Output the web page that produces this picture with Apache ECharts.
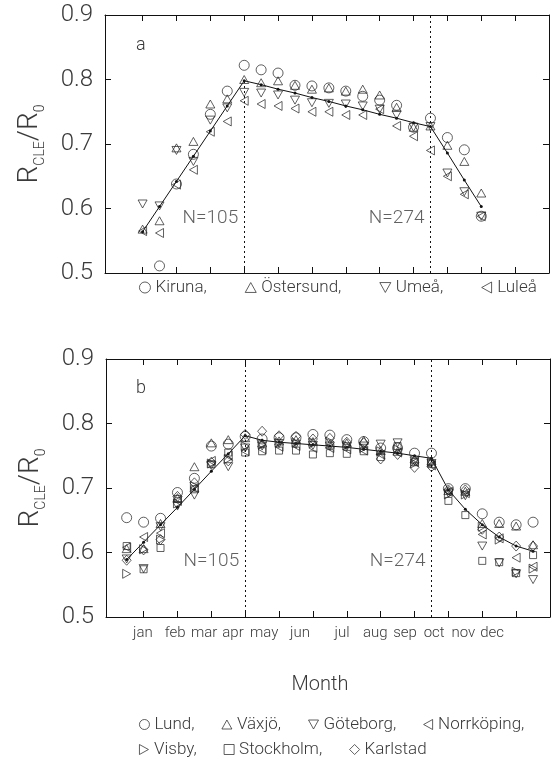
<!DOCTYPE html>
<html><head><meta charset="utf-8">
<script src="https://cdn.jsdelivr.net/npm/echarts@6/dist/echarts.min.js"></script>
<style>html,body{margin:0;padding:0;background:#fff}#c{width:557px;height:760px}</style>
</head><body><div id="c"></div>
<script>
// ---------- data ----------
const monthNames = ['jan','feb','mar','apr','may','jun','jul','aug','sep','oct','nov','dec'];
const monthTicks = [1,2,3,4,5,6,7,8,9,10,11,12];
const yTicks = [0.5,0.6,0.7,0.8,0.9];

// panel a : semi-monthly values (x in months)
const xA = [1,1.5,2,2.5,3,3.5,4,4.5,5,5.5,6,6.5,7,7.5,8,8.5,9,9.5,10,10.5,11];
const kiruna    = [null,0.511,0.638,0.684,0.746,0.782,0.822,0.815,0.810,0.791,0.790,0.787,0.782,0.774,0.768,0.760,0.726,0.740,0.710,0.691,0.588];
const ostersund = [0.568,0.581,0.694,0.704,0.762,0.770,0.800,0.795,0.798,0.791,0.785,0.787,0.782,0.785,0.776,0.757,0.726,0.728,0.698,0.673,0.624];
const umea      = [0.607,0.604,0.690,0.673,0.737,0.756,0.780,0.779,0.776,0.768,0.764,0.763,0.762,0.759,0.754,0.745,0.726,0.727,0.655,0.626,0.588];
const lulea     = [0.565,0.562,0.637,0.660,0.719,0.735,0.767,0.762,0.759,0.755,0.750,0.750,0.745,0.745,0.754,0.728,0.712,0.690,0.650,0.622,0.588];
const fitA      = [0.564,0.603,0.642,0.681,0.720,0.759,0.798,0.792,0.785,0.779,0.772,0.766,0.759,0.753,0.746,0.740,0.733,0.727,0.686,0.644,0.603];

// panel b
const xB = [0.5,1,1.5,2,2.5,3,3.5,4,4.5,5,5.5,6,6.5,7,7.5,8,8.5,9,9.5,10,10.5,11,11.5,12,12.5];
const lund       = [0.654,0.647,0.653,0.693,0.715,0.765,0.768,0.780,0.776,0.778,0.778,0.783,0.782,0.775,0.772,0.762,0.762,0.754,0.754,0.699,0.699,0.660,0.647,0.643,0.647];
const vaxjo      = [0.606,0.606,0.645,0.685,0.733,0.770,0.775,0.778,0.770,0.773,0.775,0.772,0.768,0.770,0.774,0.758,0.757,0.745,0.742,0.696,0.695,0.645,0.645,0.641,0.612];
const goteborg   = [0.590,0.575,0.640,0.672,0.689,0.735,0.733,0.762,0.765,0.769,0.768,0.766,0.765,0.764,0.765,0.768,0.770,0.742,0.738,0.692,0.688,0.610,0.584,0.567,0.558];
const norrkoping = [0.608,0.624,0.630,0.680,0.700,0.742,0.750,0.757,0.760,0.764,0.765,0.762,0.762,0.760,0.758,0.752,0.755,0.740,0.735,0.694,0.692,0.628,0.622,0.592,0.578];
const visby      = [0.567,0.605,0.620,0.676,0.703,0.738,0.745,0.765,0.768,0.770,0.770,0.770,0.772,0.766,0.762,0.757,0.760,0.738,0.740,0.690,0.690,0.640,0.620,0.570,0.575];
const stockholm  = [0.610,0.574,0.607,0.683,0.698,0.737,0.755,0.755,0.757,0.758,0.758,0.752,0.754,0.753,0.757,0.748,0.765,0.740,0.737,0.680,0.658,0.587,0.585,0.568,0.596];
const karlstad   = [0.588,0.604,0.620,0.687,0.708,0.740,0.742,0.783,0.788,0.781,0.780,0.776,0.777,0.771,0.770,0.745,0.752,0.732,0.733,0.697,0.697,0.636,0.624,0.610,0.610];
const fitB       = [0.589,0.616,0.643,0.670,0.698,0.726,0.753,0.781,0.774,0.771,0.769,0.767,0.765,0.763,0.760,0.757,0.754,0.750,0.746,0.697,0.667,0.643,0.624,0.610,0.602];

const breakMonths = [4, 9.5];
const nLabels = ['N=105','N=274'];

// ---------- layout / style ----------
const FONT = 'Roboto';
const FW = 300;
const TXT = '#3a3a3a';
const XMIN = -0.11, XMAX = 13;
const labelVals = [0.98,1.93,2.79,3.64,4.56,5.62,6.86,7.84,8.72,9.58,10.44,11.29];

const SYM = {
  circle: 'circle',
  up: 'path://M5,0L10,9L0,9Z',
  down: 'path://M0,0L10,0L5,9Z',
  left: 'path://M9,0L9,10L0,5Z',
  right: 'path://M0,0L0,10L9,5Z',
  square: 'rect',
  diamond: 'diamond'
};
const SIZE = {circle:10, up:[9,8], down:[9,8], left:[8,9], right:[8,9], square:7, diamond:[9,10]};

function zip(xs, ys){ return xs.map((x,i)=>[x, ys[i]]); }

function scatter(name, xs, ys, sym, gi){
  return {
    type:'scatter', name, xAxisIndex: gi*2, yAxisIndex: gi*2,
    data: zip(xs, ys).filter(p=>p[1]!=null),
    symbol: SYM[sym], symbolSize: SIZE[sym],
    itemStyle:{color:'rgba(0,0,0,0)', borderColor:'#222', borderWidth:0.9},
    z: 3, silent:true
  };
}

function xAxes(gi, withLabels){
  const base = {
    gridIndex: gi, type:'value', min:XMIN, max:XMAX,
    splitLine:{show:false},
    axisLine:{show:true, onZero:false, lineStyle:{color:'#111', width:1}},
    axisTick:{show:true, inside:true, length:6, customValues: monthTicks, lineStyle:{color:'#111'}},
  };
  return [
    Object.assign({}, base, {position:'bottom',
      axisLabel: withLabels ? {show:true, customValues: labelVals, fontFamily:FONT, fontWeight:FW, fontSize:15, color:TXT, margin:9,
        formatter:(v)=>{ let b=0; labelVals.forEach((lv,i)=>{ if(Math.abs(lv-v)<Math.abs(labelVals[b]-v)) b=i; }); return monthNames[b]; }}
        : {show:false},
      name: withLabels ? 'Month' : '', nameLocation:'middle', nameGap:58,
      nameTextStyle:{fontFamily:FONT, fontWeight:FW, fontSize:20, color:TXT, padding:[0,16,0,0]}
    }),
    Object.assign({}, base, {position:'top', axisLabel:{show:false}})
  ];
}

function yAxes(gi){
  const base = {
    gridIndex: gi, type:'value', min:0.5, max:0.9, interval:0.1,
    splitLine:{show:false},
    axisLine:{show:true, onZero:false, lineStyle:{color:'#111', width:1}},
    axisTick:{show:true, inside:true, length:6, lineStyle:{color:'#111'}},
  };
  return [
    Object.assign({}, base, {position:'left',
      axisLabel:{show:true, fontFamily:FONT, fontWeight:FW, fontSize:24, color:TXT, margin:12, formatter:(v)=>v.toFixed(1)},
      name:'{r|R}{s|CLE}{r|/R}{s|0}', nameLocation:'middle', nameRotate:90, nameGap:58,
      nameTextStyle:{fontFamily:FONT, color:TXT,
        rich:{ r:{fontFamily:FONT, fontWeight:FW, fontSize:28, lineHeight:34, color:TXT},
               s:{fontFamily:FONT, fontWeight:FW, fontSize:14, lineHeight:14, verticalAlign:'bottom', color:TXT} }}
    }),
    Object.assign({}, base, {position:'right', axisLabel:{show:false}})
  ];
}

function fitSeries(xs, ys, gi, marks){
  return {
    type:'line', name:'fit'+gi, xAxisIndex: gi*2, yAxisIndex: gi*2,
    data: zip(xs, ys), symbol:'circle', symbolSize:3, showSymbol:true,
    itemStyle:{color:'#111'}, lineStyle:{color:'#111', width:1}, z:2, silent:true,
    markLine:{silent:true, symbol:['none','none'], label:{show:false},
      lineStyle:{color:'#111', width:1, type:[2,3]}, data: marks}
  };
}

function nSeries(gi, yv){
  return {
    type:'scatter', name:'n'+gi, xAxisIndex: gi*2, yAxisIndex: gi*2,
    data: breakMonths.map((m,i)=>({value:[m, yv], name:nLabels[i]})),
    symbolSize:0, silent:true,
    label:{show:true, position:'left', distance:6, formatter:(p)=>p.name,
      fontFamily:FONT, fontWeight:FW, fontSize:19, color:TXT}
  };
}

const legendText = {fontFamily:FONT, fontWeight:FW, fontSize:17, color:TXT};
const legendItem = {color:'rgba(0,0,0,0)', borderColor:'#222', borderWidth:0.9};
const option = {
  animation:false,
  backgroundColor:'#fff',
  grid:[
    {left:105, top:15, width:444, height:258},
    {left:106, top:359, width:444, height:258}
  ],
  xAxis:[...xAxes(0,false), ...xAxes(1,true)],
  yAxis:[...yAxes(0), ...yAxes(1)],
  legend:[
    {data:['Kiruna','Östersund','Umeå','Luleå'], left:134, top:274, itemWidth:11, itemHeight:11, itemGap:38,
     textStyle:legendText, itemStyle:legendItem, formatter:(n)=> n==='Luleå'? n : n+',', selectedMode:false},
    {data:['Lund','Växjö','Göteborg','Norrköping'], left:134, top:711, itemWidth:10, itemHeight:10, itemGap:27,
     textStyle:legendText, itemStyle:legendItem, formatter:(n)=> n+',', selectedMode:false},
    {data:['Visby','Stockholm','Karlstad'], left:134, top:736, itemWidth:10, itemHeight:10, itemGap:27,
     textStyle:legendText, itemStyle:legendItem, formatter:(n)=> n==='Karlstad'? n : n+',', selectedMode:false}
  ],
  graphic:[
    {type:'text', left:136, top:36, style:{text:'a', font:FW+' 18px '+FONT, fill:TXT}},
    {type:'text', left:136, top:379, style:{text:'b', font:FW+' 18px '+FONT, fill:TXT}}
  ],
  series:[
    fitSeries(xA, fitA, 0, [[{coord:[breakMonths[0],0.5]},{coord:[breakMonths[0],fitA[6]]}], {xAxis:breakMonths[1]}]),
    scatter('Kiruna', xA, kiruna, 'circle', 0),
    scatter('Östersund', xA, ostersund, 'up', 0),
    scatter('Umeå', xA, umea, 'down', 0),
    scatter('Luleå', xA, lulea, 'left', 0),
    nSeries(0, 0.585),
    fitSeries(xB, fitB, 1, [{xAxis:breakMonths[0]}, {xAxis:breakMonths[1]}]),
    scatter('Lund', xB, lund, 'circle', 1),
    scatter('Växjö', xB, vaxjo, 'up', 1),
    scatter('Göteborg', xB, goteborg, 'down', 1),
    scatter('Norrköping', xB, norrkoping, 'left', 1),
    scatter('Visby', xB, visby, 'right', 1),
    scatter('Stockholm', xB, stockholm, 'square', 1),
    scatter('Karlstad', xB, karlstad, 'diamond', 1),
    nSeries(1, 0.586)
  ]
};
const chart = echarts.init(document.getElementById('c'), null, {renderer:'canvas'});
chart.setOption(option);
</script></body></html>
